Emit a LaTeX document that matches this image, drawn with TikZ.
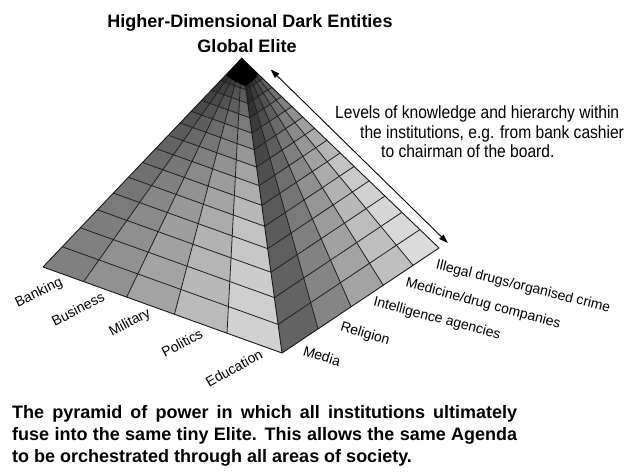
\documentclass[tikz,border=0pt]{standalone}
\usepackage{fontspec}
\setmainfont{Liberation Sans}
\newfontfamily\narrowfont[FakeStretch=0.88]{Liberation Sans}
\usetikzlibrary{calc,arrows.meta}
\begin{document}
\begin{tikzpicture}[x=1pt,y=1pt,
  gridline/.style={black!88, line width=0.8pt, line join=round, line cap=round},
  edgeline/.style={black!90, line width=0.9pt, line join=round},
  lab/.style={font=\fontsize{14}{16}\selectfont, inner sep=0pt},
  titlefont/.style={font=\bfseries\fontsize{18}{20}\selectfont, inner sep=0pt, anchor=base},
  capline/.style={font=\bfseries\fontsize{18}{20}\selectfont, inner sep=0pt, anchor=base west},
  levline/.style={font=\narrowfont\fontsize{17.7}{20}\selectfont, inner sep=0pt, anchor=base west},
  dblarrow/.style={{Triangle[length=9pt,width=6pt]}-{Triangle[length=9pt,width=6pt]}, line width=0.9pt}
]
\useasboundingbox (0,-473) rectangle (625,0);
\fill[white] (0,-473) rectangle (625,0);

\coordinate (A) at (241.7,-58.3);
\coordinate (L) at (43,-267);
\coordinate (F) at (282,-353);
\coordinate (R) at (439,-248);

% left face cells
\foreach \sa/\sb in {1/.903,.903/.812,.812/.726,.726/.646,.646/.570,.570/.499,.499/.432,.432/.369,.369/.310,.310/.254,.254/.202,.202/.153,.153/.107,.107/.063,.063/.03,.03/0}{
  \foreach \ua/\ub in {0/.17,.17/.35,.35/.55,.55/.77,.77/1}{
    \pgfmathsetmacro\lt{(46+40*(\ua+\ub)/2)*(1-0.8*(1-(\sa+\sb)/2)^2.5)}
    \pgfmathtruncatemacro\bk{100-\lt}
    \fill[black!\bk] ($(A)!\sa!($(L)!\ua!(F)$)$) -- ($(A)!\sa!($(L)!\ub!(F)$)$) -- ($(A)!\sb!($(L)!\ub!(F)$)$) -- ($(A)!\sb!($(L)!\ua!(F)$)$) -- cycle;
  }
}
% right face cells
\foreach \sa/\sb in {1/.903,.903/.812,.812/.726,.726/.646,.646/.570,.570/.499,.499/.432,.432/.369,.369/.310,.310/.254,.254/.202,.202/.153,.153/.107,.107/.063,.063/.03,.03/0}{
  \foreach \ua/\ub in {0/.23,.23/.44,.44/.645,.645/.835,.835/1}{
    \pgfmathsetmacro\lt{(32+58*(\ua+\ub)/2)*(1-0.8*(1-(\sa+\sb)/2)^2.5)}
    \pgfmathtruncatemacro\bk{100-\lt}
    \fill[black!\bk] ($(A)!\sa!($(F)!\ua!(R)$)$) -- ($(A)!\sa!($(F)!\ub!(R)$)$) -- ($(A)!\sb!($(F)!\ub!(R)$)$) -- ($(A)!\sb!($(F)!\ua!(R)$)$) -- cycle;
  }
}

% grid rows
\foreach \s in {.903,.812,.726,.646,.570,.499,.432,.369,.310,.254,.202,.153,.107,.063}{
  \draw[gridline] ($(A)!\s!(L)$) -- ($(A)!\s!(F)$) -- ($(A)!\s!(R)$);
}
% grid columns
\foreach \u in {.17,.35,.55,.77}{
  \draw[gridline] (A) -- ($(L)!\u!(F)$);
}
\foreach \u in {.23,.44,.645,.835}{
  \draw[gridline] (A) -- ($(F)!\u!(R)$);
}
% outline
\draw[edgeline] (A) -- (L) -- (F) -- (R) -- cycle;
\draw[edgeline] (A) -- (F);

% black apex
\fill[black] (A) -- ($(A)!.075!(L)$) .. controls ($(A)!.09!(L)$) and ($(A)!.095!(F)$) .. ($(A)!.095!(F)$) .. controls ($(A)!.095!(F)$) and ($(A)!.095!(R)$) .. ($(A)!.08!(R)$) -- cycle;

% titles
\node[titlefont] (t1) at (250,-28) {Higher-Dimensional Dark Entities};
\node[titlefont] (t2) at (247,-53) {Global Elite};

% arrow
\coordinate (arrTop) at (270.7,-69.5);
\coordinate (arrBot) at (447.8,-243);
\draw[dblarrow] (arrTop) -- (arrBot);

% levels text
\node[levline] (lv1) at (335,-119) {Levels of knowledge and hierarchy within};
\node[levline] (lv2) at (360,-139) {the institutions, e.g. from bank cashier};
\node[levline] (lv3) at (381,-158) {to chairman of the board.};

% left labels
\node[lab, rotate=26] (lbank) at (39,-293) {Banking};
\node[lab, rotate=27] (lbus) at (78,-309) {Business};
\node[lab, rotate=28] (lmil) at (130,-323) {Military};
\node[lab, rotate=28] (lpol) at (182,-343) {Politics};
\node[lab, rotate=29] (ledu) at (234,-368) {Education};

% right labels
\node[lab, rotate=-17] (rmed) at (322,-356) {Media};
\node[lab, rotate=-17] (rrel) at (365,-334) {Religion};
\node[lab, rotate=-15] (rint) at (437,-319) {Intelligence agencies};
\node[lab, rotate=-15] (rmdc) at (483,-304) {Medicine/drug companies};
\node[lab, rotate=-14] (rill) at (523,-287) {Illegal drugs/organised crime};

% caption
\node[capline] (c1) at (12,-419) {\makebox[505pt][s]{The pyramid of power in which all institutions ultimately}};
\node[capline] (c2) at (12,-441) {\makebox[505pt][s]{fuse into the same tiny Elite. This allows the same Agenda}};
\node[capline] (c3) at (12,-463) {to be orchestrated through all areas of society.};
\end{tikzpicture}
\end{document}
